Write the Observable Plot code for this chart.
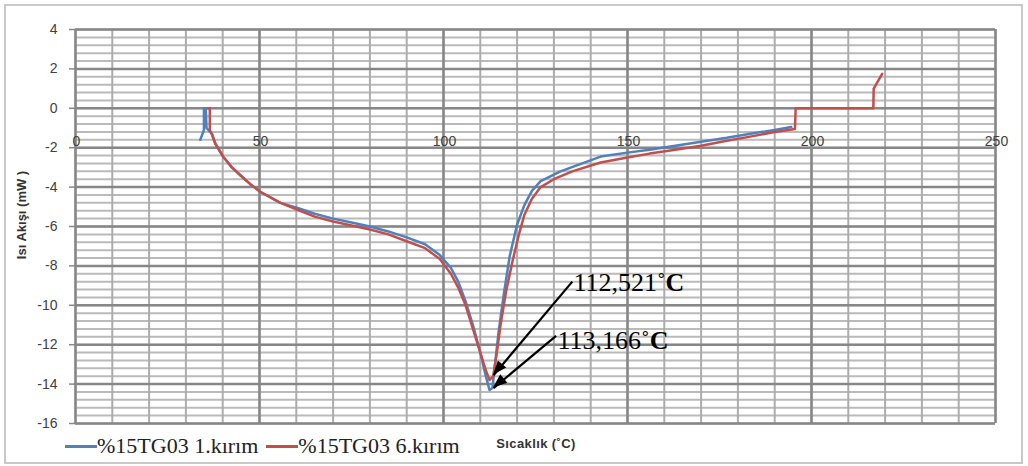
<!DOCTYPE html>
<html>
<head>
<meta charset="utf-8">
<script src="https://cdn.jsdelivr.net/npm/d3@7"></script>
<script src="https://cdn.jsdelivr.net/npm/@observablehq/plot@0.6"></script>
<style>
  html, body { margin: 0; padding: 0; background: #fff; }
  #wrap { position: relative; width: 1028px; height: 466px; overflow: hidden; }
  #border { position: absolute; left: 4px; top: 4px; width: 1015px; height: 456px; border: 2px solid #c9c9c9; box-sizing: content-box; pointer-events: none; }
  #ytitle { position: absolute; left: 21px; top: 215px; transform: translate(-50%, -50%) rotate(-90deg); font: bold 13px "Liberation Sans", Arial, sans-serif; color: #333; white-space: nowrap; }
  #xtitle { position: absolute; left: 536px; top: 443px; transform: translate(-50%, -50%); font: bold 13px "Liberation Sans", Arial, sans-serif; color: #333; white-space: nowrap; letter-spacing: 0.4px; }
  #legend { position: absolute; left: 65px; top: 433px; display: flex; align-items: center; font: 22px "Liberation Serif", "Times New Roman", serif; color: #222; white-space: nowrap; }
  .sw { display: inline-block; width: 32px; height: 3px; }
  .item { display: flex; align-items: center; margin-right: 8px; }
</style>
</head>
<body>
<div id="wrap">
  <div id="chart"></div>
  <div id="border"></div>
  <div id="ytitle">Isı Akışı (mW )</div>
  <div id="xtitle">Sıcaklık (˚C)</div>
  <div id="legend"></div>
</div>
<script>
// ---- data ----
const seriesNames = ["%15TG03 1.kırım", "%15TG03 6.kırım"];
const seriesColors = ["#4F81BD", "#C0504D"];

const xTicks = [0, 50, 100, 150, 200, 250];
const yTicks = [-16, -14, -12, -10, -8, -6, -4, -2, 0, 2, 4];

const blueX = [33.9, 34.9, 34.9, 35.4, 35.6, 37.1, 38, 40.3, 42.5, 44.8, 47.5, 50.3, 55.7, 61, 65, 70, 75, 80, 85, 90, 95, 99, 102, 104, 106, 108, 110, 111.5, 112.5, 113.3, 114, 115, 116.5, 118, 120, 122, 124, 126.4, 131.8, 142.7, 150, 156, 163, 170, 177, 183, 190, 194.5];
const blueY = [-1.6, -1.1, 0, 0, -1.0, -1.3, -1.8, -2.5, -3.0, -3.4, -3.85, -4.25, -4.8, -5.1, -5.35, -5.6, -5.8, -6.0, -6.25, -6.55, -6.9, -7.45, -8.1, -8.8, -9.8, -11.0, -12.4, -13.6, -14.3, -14.2, -13.0, -11.3, -9.3, -7.5, -5.9, -4.9, -4.2, -3.7, -3.2, -2.45, -2.25, -2.1, -1.9, -1.7, -1.5, -1.3, -1.1, -0.95];

const redX = [36.0, 36.5, 36.5, 37.0, 38, 40.3, 42.5, 44.8, 47.5, 50.3, 55.7, 61, 65, 70, 75, 80, 85, 90, 95, 99, 102, 104, 106, 108, 110, 111.5, 112.5, 113.5, 114.5, 115.5, 117, 118.7, 120.5, 122, 124, 126.4, 130, 135, 142.7, 150, 156, 163, 170, 177, 183, 190, 195.5, 195.7, 216.8, 216.9, 219.2];
const redY = [0, 0, -1.1, -1.3, -1.8, -2.5, -3.0, -3.4, -3.85, -4.25, -4.8, -5.2, -5.5, -5.75, -5.95, -6.15, -6.4, -6.75, -7.1, -7.65, -8.4, -9.1, -10.0, -11.2, -12.4, -13.3, -13.8, -13.6, -12.4, -11.0, -9.3, -7.8, -6.4, -5.4, -4.6, -4.0, -3.6, -3.2, -2.75, -2.5, -2.3, -2.1, -1.9, -1.65, -1.45, -1.2, -1.05, 0, 0, 1.0, 1.75];

const annotText = ["112,521˚C", "113,166˚C"];
const annotX = [135.3, 131.0];
const annotY = [-8.86, -11.8];
const arrowX1 = [135.0, 130.6];
const arrowY1 = [-8.8, -11.55];
const arrowX2 = [113.6, 113.6];
const arrowY2 = [-13.55, -14.2];

// ---- build ----
const blue = blueX.map((x, i) => ({x, y: blueY[i]}));
const red = redX.map((x, i) => ({x, y: redY[i]}));
const annots = annotText.map((t, i) => ({t, x: annotX[i], y: annotY[i]}));
const arrows = arrowX1.map((x1, i) => ({x1, y1: arrowY1[i], x2: arrowX2[i], y2: arrowY2[i]}));
const xMinor = d3.range(0, 251, 10);
const yMinor = d3.range(-16, 4.001, 0.4).map(v => +v.toFixed(2));
const xLabelRow = -1.7;

const chart = Plot.plot({
  width: 1028,
  height: 466,
  marginLeft: 75,
  marginRight: 33,
  marginTop: 29,
  marginBottom: 43,
  style: {background: "transparent", fontFamily: "Liberation Sans, Arial, sans-serif"},
  x: {domain: [0, 250], axis: null},
  y: {domain: [-16, 4], axis: null},
  marks: [
    Plot.ruleY(yMinor, {stroke: "#bababa", strokeWidth: 2}),
    Plot.ruleX(xMinor, {stroke: "#acacac", strokeWidth: 2}),
    Plot.ruleY(yTicks, {stroke: "#878787", strokeWidth: 2.5}),
    Plot.ruleX(xTicks, {stroke: "#878787", strokeWidth: 2.5}),
    Plot.axisY({ticks: yTicks, tickSize: 6, tickPadding: 12, tickFormat: d => String(d), label: null, fontSize: 14, stroke: "#878787", fill: "#404040", strokeWidth: 1.5}),
    Plot.text(xTicks, {x: d => d, y: () => xLabelRow, text: d => String(d), fontSize: 14, fill: "#404040", dx: 1}),
    Plot.line(blue, {x: "x", y: "y", stroke: seriesColors[0], strokeWidth: 2.5}),
    Plot.line(red, {x: "x", y: "y", stroke: seriesColors[1], strokeWidth: 2.5}),
    Plot.link(arrows, {x1: "x1", y1: "y1", x2: "x2", y2: "y2", stroke: "#000", strokeWidth: 2.2}),
    Plot.text(annots, {x: "x", y: "y", text: "t", textAnchor: "start", fontSize: 26, fontFamily: "Liberation Serif, Times New Roman, serif", fill: "#000"})
  ]
});
document.getElementById("chart").appendChild(chart);

// filled arrowheads placed through the plot's scales
const sx = chart.scale("x"), sy = chart.scale("y");
const svgNS = "http://www.w3.org/2000/svg";
arrows.forEach(a => {
  const X1 = sx.apply(a.x1), Y1 = sy.apply(a.y1), X2 = sx.apply(a.x2), Y2 = sy.apply(a.y2);
  const dx = X2 - X1, dy = Y2 - Y1, L = Math.hypot(dx, dy);
  const ux = dx / L, uy = dy / L, nx = -uy, ny = ux;
  const hl = 14, hw = 5.5;
  const bx = X2 - ux * hl, by = Y2 - uy * hl;
  const p = document.createElementNS(svgNS, "polygon");
  p.setAttribute("points", `${X2},${Y2} ${bx + nx * hw},${by + ny * hw} ${bx - nx * hw},${by - ny * hw}`);
  p.setAttribute("fill", "#000");
  chart.appendChild(p);
});

// bold "C" in the annotations
chart.querySelectorAll("text").forEach(t => {
  const s = t.textContent;
  if (annotText.includes(s)) {
    t.textContent = s.slice(0, -1);
    const ts = document.createElementNS(svgNS, "tspan");
    ts.setAttribute("font-weight", "bold");
    ts.textContent = "C";
    t.appendChild(ts);
  }
});

// legend
const legend = document.getElementById("legend");
seriesNames.forEach((n, i) => {
  const item = document.createElement("div");
  item.className = "item";
  const sw = document.createElement("span");
  sw.className = "sw";
  sw.style.background = seriesColors[i];
  const lab = document.createElement("span");
  lab.textContent = n;
  item.appendChild(sw);
  item.appendChild(lab);
  legend.appendChild(item);
});
</script>
</body>
</html>
